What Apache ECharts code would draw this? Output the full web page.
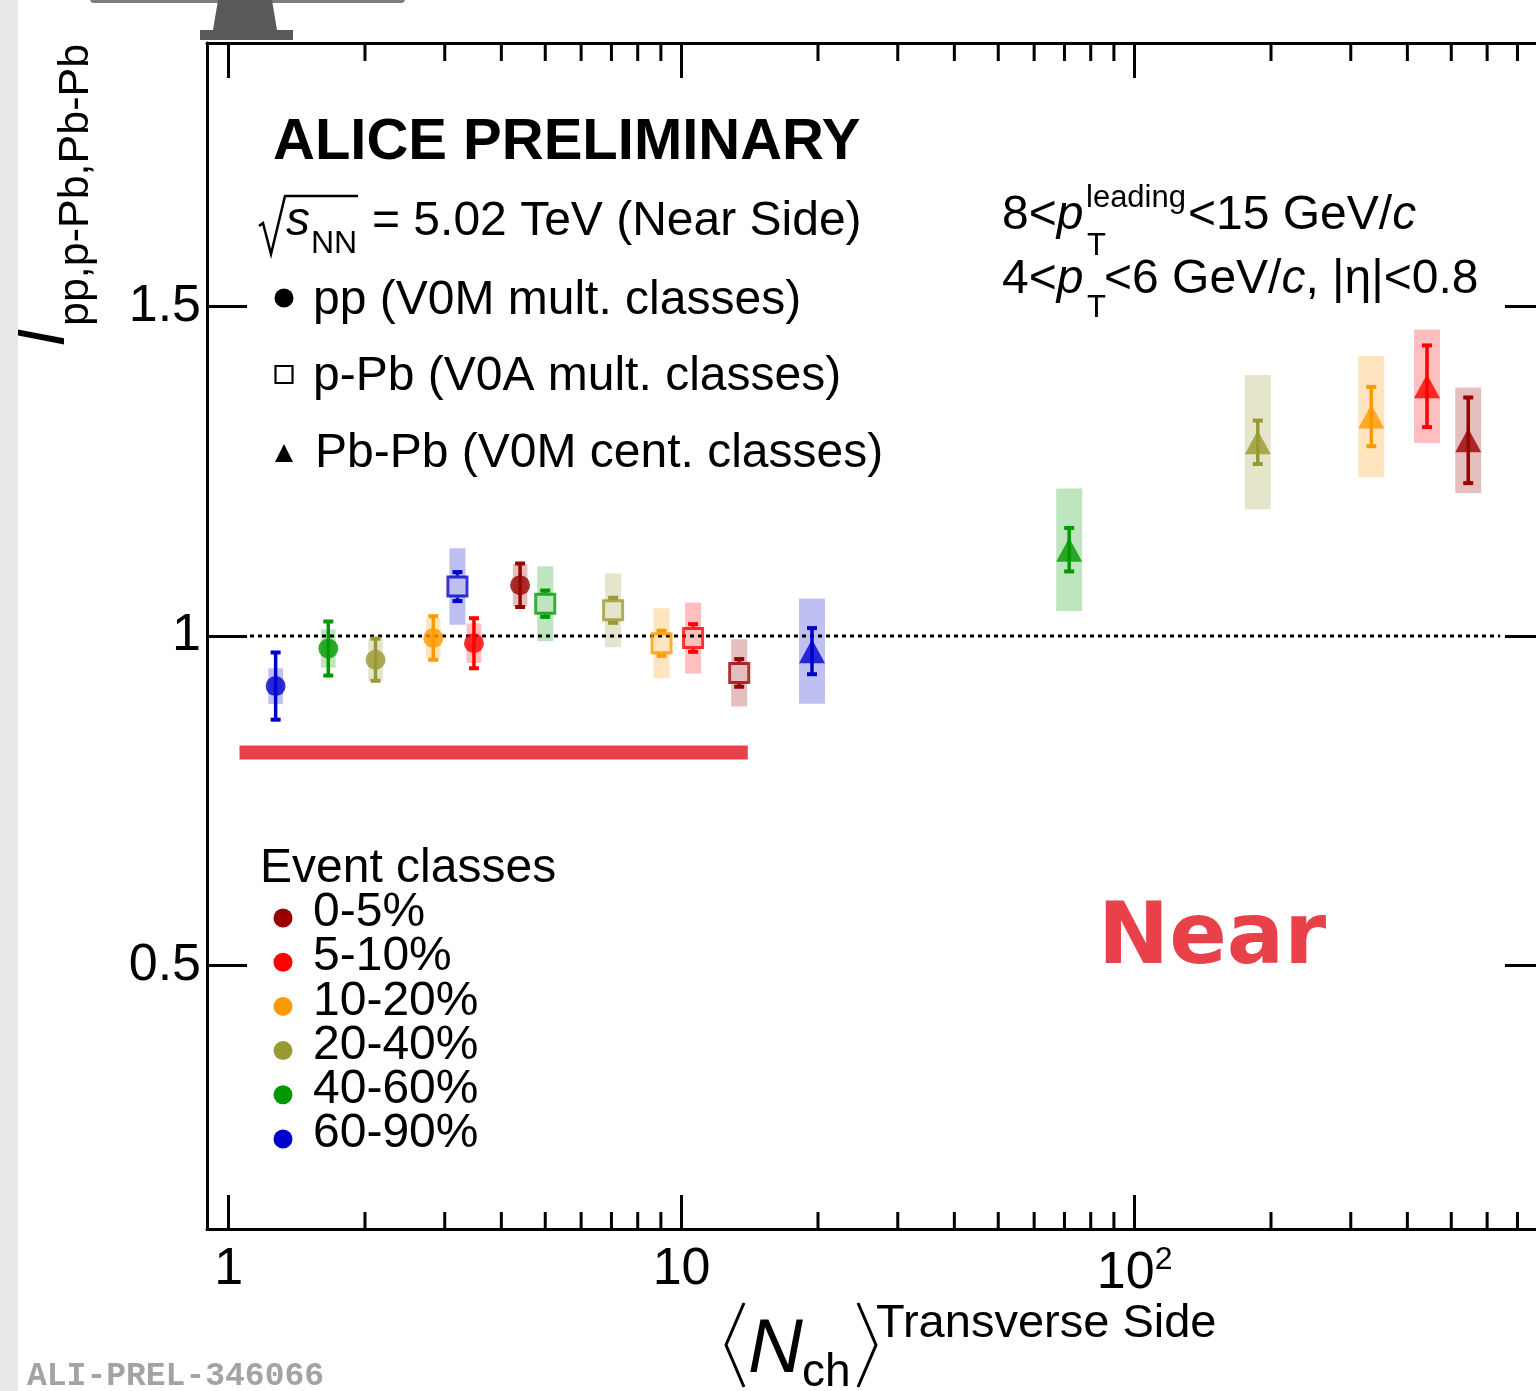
<!DOCTYPE html>
<html><head><meta charset="utf-8">
<script src="https://cdn.jsdelivr.net/npm/echarts@6/dist/echarts.min.js"></script>
<style>html,body{margin:0;padding:0;background:#fff}#c{width:1536px;height:1391px}</style>
</head><body><div id="c"></div>
<script>
// ---------- data ----------
const classes = ['0-5%', '5-10%', '10-20%', '20-40%', '40-60%', '60-90%'];
const classColors = ['#990000', '#ff0000', '#ff9900', '#999933', '#009900', '#0000cc'];

// pp (V0M mult. classes), order follows `classes`
const ppX    = [4.40, 3.48, 2.83, 2.11, 1.66, 1.27];
const ppY    = [1.077, 0.989, 0.997, 0.964, 0.981, 0.924];
const ppStat = [0.033, 0.038, 0.033, 0.032, 0.041, 0.051];
const ppSys  = [0.032, 0.030, 0.030, 0.032, 0.029, 0.027];

// p-Pb (V0A mult. classes)
const pPbX    = [13.4, 10.6, 9.03, 7.06, 5.00, 3.20];
const pPbY    = [0.944, 0.997, 0.989, 1.039, 1.049, 1.075];
const pPbStat = [0.021, 0.021, 0.019, 0.019, 0.020, 0.022];
const pPbSys  = [0.051, 0.054, 0.053, 0.056, 0.057, 0.058];

// Pb-Pb (V0M cent. classes)
const PbPbX    = [545, 442, 333, 187, 71.7, 19.4];
const PbPbY    = [1.297, 1.379, 1.333, 1.294, 1.131, 0.977];
const PbPbStat = [0.065, 0.062, 0.045, 0.033, 0.033, 0.035];
const PbPbSys  = [0.080, 0.086, 0.092, 0.102, 0.093, 0.080];

// axes
const xRange = [0.896, 797];
const yRange = [0.1, 1.9];
const xTickLabels = ['1', '10', '{a|10}{s|2}'];
const xMinorTicks = [2, 3, 4, 5, 6, 7, 8, 9, 20, 30, 40, 50, 60, 70, 80, 90, 200, 300, 400, 500, 600, 700];
const yTickValues = [0.5, 1, 1.5];
const yTickLabels = ['0.5', '1', '1.5'];

// reference line at unity and hand-drawn red stroke
const refLineX = [1.115, 641];
const refLineY = 1;
const scribbleX = [1.057, 14.0];
const scribbleY = 0.823;

// ---------- helpers ----------
const FONT = 'Liberation Sans';
function rgba(hex, a) {
  const n = parseInt(hex.slice(1), 16);
  return 'rgba(' + ((n >> 16) & 255) + ',' + ((n >> 8) & 255) + ',' + (n & 255) + ',' + a + ')';
}
function boxSeries(name, xs, ys, sys, halfW) {
  return {
    type: 'custom', name: name, z: 1, clip: false, silent: true,
    data: xs.map((x, i) => [x, ys[i], sys[i], i]),
    renderItem: function (params, api) {
      const x = api.value(0), y = api.value(1), s = api.value(2), ci = api.value(3);
      const t = api.coord([x, y + s]), b = api.coord([x, y - s]);
      return { type: 'rect', shape: { x: t[0] - halfW, y: t[1], width: 2 * halfW, height: b[1] - t[1] },
               style: { fill: rgba(classColors[ci], 0.25) } };
    }
  };
}
function errSeries(name, xs, ys, err, gap) {
  return {
    type: 'custom', name: name, z: 3, clip: false, silent: true,
    data: xs.map((x, i) => [x, ys[i], err[i], i]),
    renderItem: function (params, api) {
      const x = api.value(0), y = api.value(1), e = api.value(2), ci = api.value(3);
      const c = api.coord([x, y]), t = api.coord([x, y + e]), b = api.coord([x, y - e]);
      const col = classColors[ci];
      const ch = [];
      if (c[1] - gap - t[1] > 0) ch.push({ type: 'line', shape: { x1: c[0], y1: t[1], x2: c[0], y2: c[1] - gap }, style: { stroke: col, lineWidth: 3.5 } });
      if (b[1] - (c[1] + gap) > 0) ch.push({ type: 'line', shape: { x1: c[0], y1: c[1] + gap, x2: c[0], y2: b[1] }, style: { stroke: col, lineWidth: 3.5 } });
      ch.push({ type: 'rect', shape: { x: c[0] - 5, y: t[1] - 2, width: 10, height: 4 }, style: { fill: col } });
      ch.push({ type: 'rect', shape: { x: c[0] - 5, y: b[1] - 2, width: 10, height: 4 }, style: { fill: col } });
      return { type: 'group', children: ch };
    }
  };
}
function markerSeries(name, xs, ys, symbol, size, open) {
  return {
    type: 'scatter', name: name, z: 4, symbol: symbol, symbolSize: size, silent: true,
    data: xs.map((x, i) => ({
      value: [x, ys[i]],
      itemStyle: open ? { color: 'rgba(0,0,0,0)', borderColor: classColors[i], borderWidth: 3 }
                      : { color: classColors[i] }
    }))
  };
}
const DY = 3; // baseline tweak for horizontal texts
function txt(x, y, text, size, extra, el) {
  const rotated = el && el.rotation;
  return Object.assign({ type: 'text', x: x, y: rotated ? y : y + DY, silent: true, z: 10,
    style: Object.assign({ text: text, fontSize: size, fontFamily: FONT, fill: '#000', align: 'left', verticalAlign: 'middle' }, extra || {}) }, el || {});
}

// ---------- graphic annotations ----------
const g = [];
g.push({ type: 'rect', shape: { x: 0, y: 0, width: 18, height: 1391 }, style: { fill: '#e9e9e9' }, silent: true });
g.push({ type: 'rect', shape: { x: 90, y: -6, width: 315, height: 9, r: 4 }, style: { fill: '#7d7d7d' }, silent: true });
g.push({ type: 'polygon', shape: { points: [[218, 0], [272, 0], [277, 30], [293, 30], [293, 40], [200, 40], [200, 30], [213, 30]] }, style: { fill: '#595959' }, silent: true });

g.push(txt(273, 140, 'ALICE PRELIMINARY', 58, { fontWeight: 'bold' }));
g.push({ type: 'polyline', shape: { points: [[259, 226], [263, 223], [271, 254], [285, 196], [358, 196]] }, style: { stroke: '#000', lineWidth: 2.5, fill: null }, silent: true });
g.push(txt(286, 219, 's', 48, { fontStyle: 'italic' }));
g.push(txt(311, 241, 'NN', 32));
g.push(txt(372, 219, '= 5.02 TeV (Near Side)', 48));

g.push({ type: 'circle', shape: { cx: 284, cy: 298, r: 9.5 }, style: { fill: '#000' }, silent: true });
g.push(txt(313, 298, 'pp (V0M mult. classes)', 48));
g.push({ type: 'rect', shape: { x: 275.5, y: 366, width: 17, height: 17 }, style: { fill: null, stroke: '#000', lineWidth: 2.2 }, silent: true });
g.push(txt(313, 374, 'p-Pb (V0A mult. classes)', 48));
g.push({ type: 'polygon', shape: { points: [[275, 462], [293, 462], [284, 444]] }, style: { fill: '#000' }, silent: true });
g.push(txt(315, 451, 'Pb-Pb (V0M cent. classes)', 48));

const richN = { n: { fontSize: 48, fontFamily: FONT }, i: { fontSize: 48, fontFamily: FONT, fontStyle: 'italic' } };
g.push(txt(1002, 213, '{n|8<}{i|p}', 48, { rich: richN }));
g.push(txt(1086, 195, 'leading', 31));
g.push(txt(1087, 243, 'T', 31));
g.push(txt(1188, 213, '{n|<15 GeV/}{i|c}', 48, { rich: richN }));
g.push(txt(1002, 277, '{n|4<}{i|p}', 48, { rich: richN }));
g.push(txt(1087, 305, 'T', 31));
g.push(txt(1104, 277, '{n|<6 GeV/}{i|c}{n|, |η|<0.8}', 48, { rich: richN }));

g.push(txt(260, 866, 'Event classes', 48));
classes.forEach((c, i) => {
  const yy = 910 + i * 44.2;
  g.push({ type: 'circle', shape: { cx: 283, cy: yy + 8, r: 9.5 }, style: { fill: classColors[i] }, silent: true });
  g.push(txt(313, yy, c, 48));
});

g.push(txt(1098, 938, 'Near', 85, { fontFamily: 'DejaVu Sans', fontWeight: 'bold', fill: '#e8414a' }));
g.push(txt(27, 1374, 'ALI-PREL-346066', 33, { fontFamily: 'Liberation Mono', fontWeight: 'bold', fill: '#a3a3a3' }));

// y-axis title (rotated)
g.push(txt(46, 347, 'I', 66, { fontStyle: 'italic' }, { rotation: Math.PI / 2 }));
g.push(txt(76, 326, 'pp,p-Pb,Pb-Pb', 43, {}, { rotation: Math.PI / 2 }));

// x-axis title
g.push({ type: 'polyline', shape: { points: [[744, 1303], [726, 1345], [744, 1387]] }, style: { stroke: '#000', lineWidth: 3, fill: null }, silent: true });
g.push({ type: 'polyline', shape: { points: [[858, 1303], [876, 1345], [858, 1387]] }, style: { stroke: '#000', lineWidth: 3, fill: null }, silent: true });
g.push(txt(748, 1348, 'N', 76, { fontStyle: 'italic' }));
g.push(txt(802, 1370, 'ch', 46));
g.push(txt(876, 1321, 'Transverse Side', 47));

// ---------- chart ----------
const chart = echarts.init(document.getElementById('c'), null, { renderer: 'canvas' });
const axisLine = { show: true, onZero: false, lineStyle: { color: '#000', width: 3 } };
const xFormatter = function (v) {
  const e = Math.log10(v), r = Math.round(e);
  if (Math.abs(e - r) > 1e-6 || r < 0 || r >= xTickLabels.length) return '';
  return xTickLabels[r];
};
chart.setOption({
  animation: false,
  backgroundColor: '#fff',
  grid: { left: 207, top: 43, right: -7, bottom: 162, containLabel: false, outerBoundsMode: 'none' },
  xAxis: [
    { type: 'log', logBase: 10, min: xRange[0], max: xRange[1], position: 'bottom',
      axisLine: axisLine,
      axisTick: { show: true, inside: true, length: 34, lineStyle: { color: '#000', width: 3 } },
      axisLabel: { show: true, interval: 0, margin: 15, color: '#000', fontSize: 52, fontFamily: FONT, formatter: xFormatter,
        rich: { a: { fontSize: 52, fontFamily: FONT, color: '#000', lineHeight: 60 },
                s: { fontSize: 32, fontFamily: FONT, color: '#000', lineHeight: 20, verticalAlign: 'top' } } },
      splitLine: { show: false }, minorTick: { show: false } },
    { type: 'log', logBase: 10, min: xRange[0], max: xRange[1], position: 'top',
      axisLine: axisLine,
      axisTick: { show: true, inside: true, length: 35, lineStyle: { color: '#000', width: 3 } },
      axisLabel: { show: false }, splitLine: { show: false } }
  ],
  yAxis: [
    { type: 'value', min: yRange[0], max: yRange[1], position: 'left',
      axisLine: axisLine,
      axisTick: { show: true, inside: true, length: 40, customValues: yTickValues, lineStyle: { color: '#000', width: 3 } },
      axisLabel: { show: true, customValues: yTickValues, margin: 6, color: '#000', fontSize: 52, fontFamily: FONT,
        formatter: function (v) { const k = yTickValues.indexOf(v); return k >= 0 ? yTickLabels[k] : ''; } },
      splitLine: { show: false } },
    { type: 'value', min: yRange[0], max: yRange[1], position: 'right',
      axisLine: axisLine,
      axisTick: { show: true, inside: true, length: 38, customValues: yTickValues, lineStyle: { color: '#000', width: 3 } },
      axisLabel: { show: false }, splitLine: { show: false } }
  ],
  graphic: g,
  series: [
    boxSeries('pp sys', ppX, ppY, ppSys, 7.3),
    boxSeries('p-Pb sys', pPbX, pPbY, pPbSys, 8),
    boxSeries('Pb-Pb sys', PbPbX, PbPbY, PbPbSys, 13),
    { type: 'line', name: 'unity', z: 2, silent: true, symbol: 'none',
      data: refLineX.map(x => [x, refLineY]),
      lineStyle: { color: '#000', width: 3, type: [4, 4] } },
    errSeries('pp stat', ppX, ppY, ppStat, 0),
    errSeries('p-Pb stat', pPbX, pPbY, pPbStat, 11),
    errSeries('Pb-Pb stat', PbPbX, PbPbY, PbPbStat, 0),
    markerSeries('pp', ppX, ppY, 'circle', 20, false),
    markerSeries('p-Pb', pPbX, pPbY, 'rect', 19, true),
    markerSeries('Pb-Pb', PbPbX, PbPbY, 'triangle', [26, 24], false),
    { type: 'line', name: 'stroke', z: 5, silent: true, symbol: 'none',
      data: scribbleX.map(x => [x, scribbleY]),
      lineStyle: { color: '#e8414a', width: 14, cap: 'butt' } },
    { type: 'custom', name: 'minor ticks', z: 6, clip: false, silent: true,
      data: xMinorTicks.map(v => [v, yRange[0]]),
      renderItem: function (params, api) {
        const v = api.value(0);
        const b = api.coord([v, yRange[0]]), t = api.coord([v, yRange[1]]);
        return { type: 'group', children: [
          { type: 'line', shape: { x1: b[0], y1: b[1], x2: b[0], y2: b[1] - 17 }, style: { stroke: '#000', lineWidth: 3 } },
          { type: 'line', shape: { x1: t[0], y1: t[1], x2: t[0], y2: t[1] + 18 }, style: { stroke: '#000', lineWidth: 3 } }
        ] };
      } }
  ]
});
</script></body></html>
